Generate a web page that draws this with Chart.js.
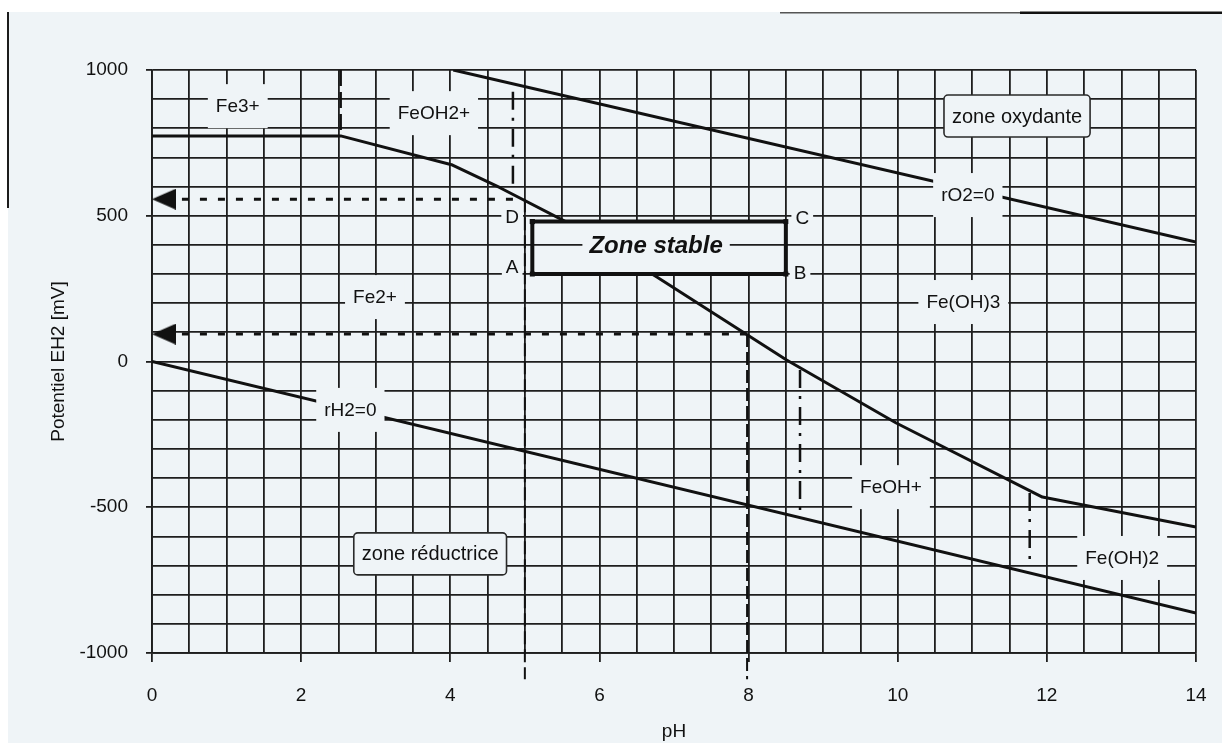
<!DOCTYPE html>
<html lang="fr">
<head>
<meta charset="utf-8">
<title>Diagramme potentiel-pH du fer</title>
<script src="https://cdn.jsdelivr.net/npm/chart.js@4.4.1/dist/chart.umd.min.js"></script>
<style>
  html, body { margin: 0; padding: 0; background: #ffffff; }
  #wrap { position: relative; width: 1222px; height: 743px; }
  canvas { display: block; }
</style>
</head>
<body>
<div id="wrap"><canvas id="c" width="1222" height="743"></canvas></div>
<script>
// ---- Axes ----
const phMin = 0, phMax = 14, phStep = 0.5, phLabelStep = 2;
const ehMin = -1000, ehMax = 1000, ehStep = 100, ehLabelStep = 500;

// ---- Domain boundaries (pH, mV) ----
const o2Ph = [4.04, 14];
const o2Eh = [1000, 410];
const h2Ph = [0, 14];
const h2Eh = [0, -863];
const ironPh = [0, 2.53, 4.03, 4.66, 5.69, 6.77, 8.51, 9.98, 11.94, 14];
const ironEh = [774, 774, 674, 597, 461, 290, 5, -211, -465, -568];
const fe3Ph = [2.53, 2.53];
const fe3Eh = [1000, 774];

// Dash-dot limits between hydroxide species
const limitPh = [4.84, 8.69, 11.77];
const limitTop = [925, -29, -451];
const limitBottom = [599, -520, -679];

// Stable zone rectangle (A, B, C, D corners)
const stablePh = [5.1, 8.5];
const stableEh = [300, 480];

// Reading lines: horizontal to the potential axis, vertical to the pH axis
const readEh = [557, 94];
const readEndPh = [4.9, 8.0];
const readDropPh = [5.0, 7.98];
const readDropBottom = -1090;
const arrowPh = 0.16;

// ---- Text labels ----
const speciesText = ['Fe3+', 'FeOH2+', 'Fe2+', 'Fe(OH)3', 'FeOH+', 'Fe(OH)2', 'rO2=0', 'rH2=0'];
const speciesPh = [1.15, 3.78, 2.99, 10.88, 9.91, 13.01, 10.94, 2.66];
const speciesEh = [876, 852, 221, 204, -431, -674, 571, -166];
const zoneText = ['zone oxydante', 'zone réductrice'];
const zonePh = [11.6, 3.73];
const zoneEh = [842, -660];
const cornerText = ['A', 'B', 'C', 'D'];
const cornerPh = [4.83, 8.69, 8.72, 4.83];
const cornerEh = [324, 304, 492, 496];
const stableText = 'Zone stable';
const stableGridEh = 400;

// ---- Styles ----
const PAPER = '#eff4f7';
const INK = '#111111';
const GRID = '#1e1e1e';
const GRID_W = 1.8;
const FONT = '"Liberation Sans", Arial, Helvetica, sans-serif';
const LABEL_FONT = '19px ' + FONT;

const pts = (xs, ys) => xs.map((x, i) => ({ x: x, y: ys[i] }));
const isMultiple = (v, step) => Math.abs(v / step - Math.round(v / step)) < 1e-6;

function arrowHead() {
  const c = document.createElement('canvas');
  c.width = 24; c.height = 21;
  const g = c.getContext('2d');
  g.fillStyle = INK;
  g.beginPath();
  g.moveTo(0, 10.5); g.lineTo(24, 0); g.lineTo(24, 21); g.closePath();
  g.fill();
  return c;
}
const ARROW = arrowHead();

const solid = (data, width) => ({
  data: data, borderColor: INK, borderWidth: width, pointRadius: 0,
  fill: false, tension: 0, borderCapStyle: 'butt', borderJoinStyle: 'round'
});

const datasets = [];

// 0: stable zone box (drawn last, on top)
datasets.push({
  label: 'stable',
  data: [
    { x: stablePh[0], y: stableEh[1] }, { x: stablePh[1], y: stableEh[1] },
    { x: stablePh[1], y: stableEh[0] }, { x: stablePh[0], y: stableEh[0] },
    { x: stablePh[0], y: stableEh[1] }
  ],
  borderColor: INK, borderWidth: 4, borderJoinStyle: 'miter', fill: false, tension: 0,
  pointStyle: 'rect', pointRadius: 3.5, pointBackgroundColor: INK, pointBorderWidth: 0
});

// reading lines with arrow heads at the potential axis
readEh.forEach((eh, i) => {
  datasets.push({
    label: 'read' + i,
    data: [{ x: arrowPh, y: eh }, { x: readEndPh[i], y: eh }],
    borderColor: INK, borderWidth: 3, borderDash: [7, 11], tension: 0, fill: false,
    pointStyle: ARROW, pointRadius: ctx => (ctx.dataIndex === 0 ? 10 : 0),
    pointBackgroundColor: INK, pointBorderWidth: 0, clip: false
  });
  datasets.push({
    label: 'drop' + i,
    data: [{ x: readDropPh[i], y: eh }, { x: readDropPh[i], y: readDropBottom }],
    borderColor: INK, borderWidth: 2, borderDash: [13, 5], pointRadius: 0,
    tension: 0, fill: false, clip: false
  });
});

// dash-dot limits
limitPh.forEach((ph, i) => {
  datasets.push({
    label: 'limit' + i,
    data: [{ x: ph, y: limitTop[i] }, { x: ph, y: limitBottom[i] }],
    borderColor: INK, borderWidth: 2.5, borderDash: [18, 8, 3, 8], pointRadius: 0,
    tension: 0, fill: false
  });
});

// Fe3+ / FeOH2+ limit
datasets.push(Object.assign(solid(pts(fe3Ph, fe3Eh), 2.5), { label: 'fe3', borderDash: [16, 6] }));

// main boundaries
datasets.push(Object.assign(solid(pts(ironPh, ironEh), 3), { label: 'iron' }));
datasets.push(Object.assign(solid(pts(o2Ph, o2Eh), 3), { label: 'o2' }));
datasets.push(Object.assign(solid(pts(h2Ph, h2Eh), 3), { label: 'h2' }));

function knockoutText(ctx, text, px, py, padX, halfH) {
  ctx.font = LABEL_FONT;
  const w = ctx.measureText(text).width;
  ctx.fillStyle = PAPER;
  ctx.fillRect(px - w / 2 - padX, py - halfH, w + 2 * padX, 2 * halfH);
  ctx.fillStyle = INK;
  ctx.fillText(text, px, py + 1);
}

function boxedText(ctx, text, px, py) {
  ctx.font = '20px ' + FONT;
  const w = ctx.measureText(text).width + 16;
  const h = 42;
  const x0 = px - w / 2, y0 = py - h / 2;
  ctx.beginPath();
  ctx.roundRect(x0, y0, w, h, 4);
  ctx.fillStyle = PAPER;
  ctx.fill();
  ctx.lineWidth = 1.6;
  ctx.strokeStyle = '#2a2a2a';
  ctx.stroke();
  ctx.fillStyle = INK;
  ctx.fillText(text, px, py + 1);
}

const paperPlugin = {
  id: 'paper',
  beforeDraw(chart) {
    const { ctx, width, height } = chart;
    ctx.save();
    ctx.fillStyle = '#ffffff';
    ctx.fillRect(0, 0, width, height);
    ctx.fillStyle = PAPER;
    ctx.fillRect(8, 12, width - 8, height - 12);
    ctx.fillStyle = '#1c1c1c';
    ctx.fillRect(7, 12, 2, 196);
    ctx.fillStyle = '#555555';
    ctx.fillRect(780, 12, 242, 1.5);
    ctx.fillStyle = '#111111';
    ctx.fillRect(1020, 11.5, 202, 2.5);
    ctx.restore();
  }
};

const stablePlugin = {
  id: 'stableZone',
  beforeDatasetDraw(chart, args) {
    if (args.index !== 0) return;
    const { ctx, scales: { x, y } } = chart;
    const x0 = x.getPixelForValue(stablePh[0]), x1 = x.getPixelForValue(stablePh[1]);
    const y0 = y.getPixelForValue(stableEh[1]), y1 = y.getPixelForValue(stableEh[0]);
    ctx.save();
    ctx.fillStyle = PAPER;
    ctx.fillRect(x0, y0, x1 - x0, y1 - y0);
    // the 400 mV grid line continues inside the box
    const gy = y.getPixelForValue(stableGridEh);
    ctx.strokeStyle = GRID;
    ctx.lineWidth = GRID_W;
    ctx.beginPath();
    ctx.moveTo(x0, gy); ctx.lineTo(x1, gy);
    ctx.stroke();
    ctx.font = 'italic bold 24px ' + FONT;
    ctx.textAlign = 'center';
    ctx.textBaseline = 'middle';
    const cx = (x0 + x1) / 2 - 3;
    const w = ctx.measureText(stableText).width;
    ctx.fillRect(cx - w / 2 - 7, gy - 14, w + 14, 28);
    ctx.fillStyle = INK;
    ctx.fillText(stableText, cx, gy + 1);
    ctx.restore();
  }
};

const labelPlugin = {
  id: 'labels',
  afterDatasetsDraw(chart) {
    const { ctx, scales: { x, y } } = chart;
    ctx.save();
    ctx.textAlign = 'center';
    ctx.textBaseline = 'middle';
    speciesText.forEach((t, i) => {
      knockoutText(ctx, t, x.getPixelForValue(speciesPh[i]), y.getPixelForValue(speciesEh[i]), 8, 22);
    });
    cornerText.forEach((t, i) => {
      knockoutText(ctx, t, x.getPixelForValue(cornerPh[i]), y.getPixelForValue(cornerEh[i]), 4, 10);
    });
    zoneText.forEach((t, i) => {
      boxedText(ctx, t, x.getPixelForValue(zonePh[i]), y.getPixelForValue(zoneEh[i]));
    });
    ctx.restore();
  }
};

new Chart(document.getElementById('c'), {
  type: 'line',
  data: { datasets: datasets },
  plugins: [paperPlugin, stablePlugin, labelPlugin],
  options: {
    responsive: false,
    devicePixelRatio: 1,
    animation: false,
    layout: { padding: { top: 70, right: 26, bottom: 0, left: 0 } },
    plugins: { legend: { display: false }, tooltip: { enabled: false } },
    events: [],
    scales: {
      x: {
        type: 'linear', min: phMin, max: phMax,
        afterFit(scale) {
          scale.height = 90;
          scale.paddingLeft = 0;
          scale.paddingRight = 0;
        },
        ticks: {
          stepSize: phStep, autoSkip: false, maxRotation: 0, minRotation: 0,
          padding: 22, color: INK, font: { family: FONT, size: 19 },
          callback: v => (isMultiple(v, phLabelStep) ? String(Math.round(v)) : '')
        },
        grid: {
          color: GRID, lineWidth: GRID_W, tickLength: 9, tickWidth: GRID_W,
          tickColor: ctx => (ctx.tick && isMultiple(ctx.tick.value, phLabelStep) ? GRID : 'rgba(0,0,0,0)')
        },
        border: { color: GRID, width: GRID_W },
        title: {
          display: true, text: 'pH', color: INK,
          font: { family: FONT, size: 19 }, padding: { top: 0, bottom: 0 }
        }
      },
      y: {
        type: 'linear', min: ehMin, max: ehMax,
        afterFit(scale) { scale.width = 152; },
        ticks: {
          stepSize: ehStep, autoSkip: false,
          padding: 18, color: INK, font: { family: FONT, size: 19 },
          callback: v => (isMultiple(v, ehLabelStep) ? String(v) : '')
        },
        grid: {
          color: GRID, lineWidth: GRID_W, tickLength: 6, tickWidth: GRID_W,
          tickColor: ctx => (ctx.tick && isMultiple(ctx.tick.value, ehLabelStep) ? GRID : 'rgba(0,0,0,0)')
        },
        border: { color: GRID, width: GRID_W },
        title: {
          display: true, text: 'Potentiel EH2 [mV]', color: INK,
          font: { family: FONT, size: 19 }, padding: { top: 47, bottom: 0 }
        }
      }
    }
  }
});
</script>
</body>
</html>
